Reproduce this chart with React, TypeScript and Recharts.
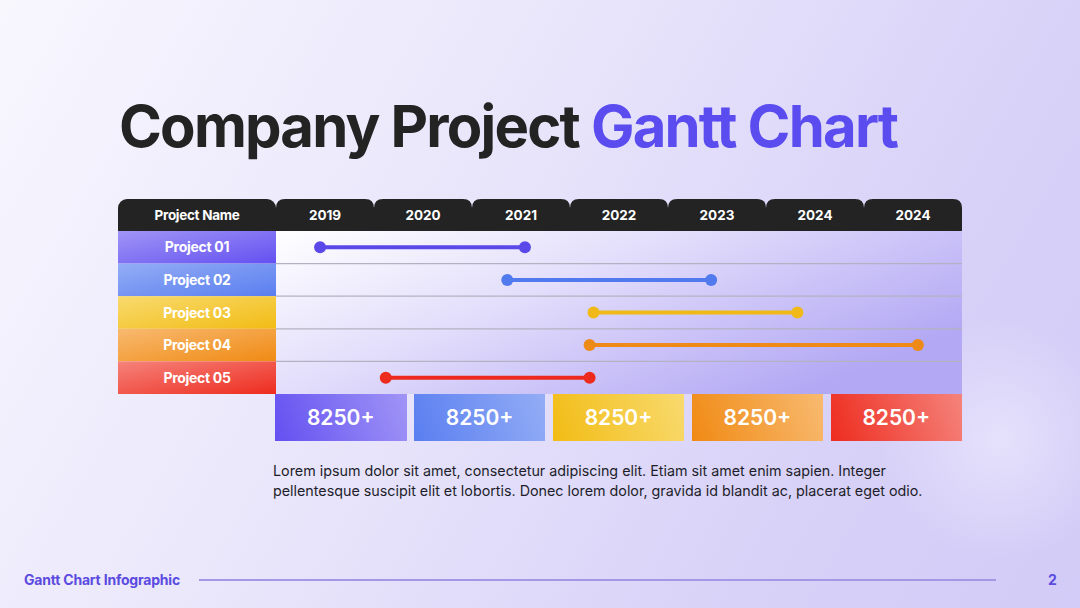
import { ScatterChart, Scatter, XAxis, YAxis, ReferenceArea, ReferenceLine } from 'recharts';

const years = ['2019', '2020', '2021', '2022', '2023', '2024', '2024'];
const projects = ['Project 01', 'Project 02', 'Project 03', 'Project 04', 'Project 05'];
// start / end of each project, measured in year columns from the left edge of 2019
const starts = [0.45, 2.36, 3.24, 3.2, 1.12];
const ends = [2.54, 4.44, 5.32, 6.55, 3.2];
const totals = ['8250+', '8250+', '8250+', '8250+', '8250+'];

const palette = [
  { line: '#5a48e8', light: '#a095f6', dark: '#6450f1' },
  { line: '#517aee', light: '#93adf5', dark: '#5a7ef0' },
  { line: '#f0b917', light: '#f8da6e', dark: '#f2bc15' },
  { line: '#ee8a18', light: '#f8ba70', dark: '#f08a14' },
  { line: '#ec2a1e', light: '#f5837b', dark: '#ee2c1f' },
];

const FONT = 'Inter, "Noto Sans", sans-serif';
const LEFT = 118;
const LABEL_W = 158;
const PLOT_L = LEFT + LABEL_W;
const PLOT_R = 962;
const HEAD_TOP = 199;
const HEAD_H = 32;
const PLOT_T = HEAD_TOP + HEAD_H;
const PLOT_B = 394;
const ROW_H = (PLOT_B - PLOT_T) / projects.length;
const COL_W = (PLOT_R - PLOT_L) / years.length;

const rows = projects.map((name, i) => ({
  name,
  data: [
    { x: starts[i], y: i + 0.5 },
    { x: ends[i], y: i + 0.5 },
  ],
}));

function tabPath(l: number, r: number, t: number, b: number, rad: number) {
  return `M${l},${b} L${l},${t + rad} Q${l},${t} ${l + rad},${t} L${r - rad},${t} Q${r},${t} ${r},${t + rad} L${r},${b} Z`;
}

function YearTab(props: any) {
  const { x, payload } = props;
  const i = Math.round(payload.value - 0.5);
  return (
    <g>
      <path d={tabPath(x - COL_W / 2, x + COL_W / 2, HEAD_TOP, PLOT_T, 9)} fill="#232323" />
      <text x={x} y={HEAD_TOP + HEAD_H / 2 + 5} textAnchor="middle" fill="#fff" fontSize={13.5} fontWeight={700} fontFamily={FONT}>
        {years[i]}
      </text>
    </g>
  );
}

function ProjectTick(props: any) {
  const { y, payload } = props;
  const i = Math.round(payload.value - 0.5);
  return (
    <g>
      <rect x={LEFT} y={y - ROW_H / 2} width={LABEL_W} height={ROW_H} fill={`url(#cell${i})`} />
      <text x={LEFT + LABEL_W / 2} y={y + 5} textAnchor="middle" fill="#fff" fontSize={14} fontWeight={700} fontFamily={FONT} letterSpacing={-0.3}>
        {projects[i]}
      </text>
    </g>
  );
}

const Dot = (color: string) => (p: any) => <circle cx={p.cx} cy={p.cy} r={6} fill={color} />;

export default function App() {
  return (
    <div
      style={{
        position: 'absolute',
        left: 0,
        top: 0,
        width: 1080,
        height: 608,
        overflow: 'hidden',
        fontFamily: FONT,
        background:
          'radial-gradient(circle at 1000px 440px, rgba(236,233,253,0.7) 0px, rgba(236,233,253,0) 120px), linear-gradient(120deg, #f8f7fe 0%, #e9e6fb 40%, #d8d2f8 75%, #d2cbf7 100%)',
      }}
    >
      <div style={{ position: 'absolute', left: 119, top: 91, fontSize: 58, fontWeight: 700, letterSpacing: -1.8, color: '#232323', whiteSpace: 'nowrap' }}>
        Company Project <span style={{ color: '#5b4cf0' }}>Gantt Chart</span>
      </div>

      {/* header cell above the project names */}
      <div
        style={{
          position: 'absolute',
          left: LEFT,
          top: HEAD_TOP,
          width: LABEL_W,
          height: HEAD_H,
          background: '#232323',
          borderRadius: '9px 9px 0 0',
          color: '#fff',
          fontSize: 13.5,
          fontWeight: 700,
          letterSpacing: -0.3,
          display: 'flex',
          alignItems: 'center',
          justifyContent: 'center',
        }}
      >
        Project Name
      </div>

      <div style={{ position: 'absolute', left: 0, top: 0 }}>
        <ScatterChart width={1080} height={608} margin={{ top: HEAD_TOP, right: 1080 - PLOT_R, bottom: 608 - PLOT_B, left: LEFT }}>
          <defs>
            <linearGradient id="plotBg" x1="0" y1="0" x2="1" y2="0.6">
              <stop offset="0%" stopColor="#ffffff" />
              <stop offset="45%" stopColor="#e2ddfb" />
              <stop offset="100%" stopColor="#b3a8f4" />
            </linearGradient>
            {palette.map((c, i) => (
              <linearGradient key={i} id={`cell${i}`} x1="0" y1="0" x2="1" y2="1">
                <stop offset="0%" stopColor={c.light} />
                <stop offset="100%" stopColor={c.dark} />
              </linearGradient>
            ))}
          </defs>
          <XAxis
            type="number"
            dataKey="x"
            orientation="top"
            domain={[0, years.length]}
            ticks={years.map((_, i) => i + 0.5)}
            height={HEAD_H}
            axisLine={false}
            tickLine={false}
            tick={YearTab}
            interval={0}
          />
          <YAxis
            type="number"
            dataKey="y"
            domain={[0, projects.length]}
            reversed
            ticks={projects.map((_, i) => i + 0.5)}
            width={LABEL_W}
            axisLine={false}
            tickLine={false}
            tick={ProjectTick}
            interval={0}
          />
          <ReferenceArea x1={0} x2={years.length} y1={0} y2={projects.length} fill="url(#plotBg)" fillOpacity={1} stroke="none" />
          {[1, 2, 3, 4].map((v) => (
            <ReferenceLine key={v} y={v} stroke="#b4b2c2" strokeWidth={1.2} />
          ))}
          {rows.map((r, i) => (
            <Scatter
              key={r.name}
              name={r.name}
              data={r.data}
              fill={palette[i].line}
              line={{ stroke: palette[i].line, strokeWidth: 4 }}
              shape={Dot(palette[i].line)}
              isAnimationActive={false}
            />
          ))}
        </ScatterChart>
      </div>

      <div style={{ position: 'absolute', left: PLOT_L - 1, top: PLOT_B, width: PLOT_R - PLOT_L + 1, height: 47, display: 'flex', justifyContent: 'space-between' }}>
        {totals.map((t, i) => (
          <div
            key={i}
            style={{
              width: 131.5,
              height: 47,
              background: `linear-gradient(70deg, ${palette[i].dark} 0%, ${palette[i].light} 100%)`,
              color: '#fff',
              fontSize: 21,
              fontWeight: 600,
              display: 'flex',
              alignItems: 'center',
              justifyContent: 'center',
            }}
          >
            {t}
          </div>
        ))}
      </div>

      <div style={{ position: 'absolute', left: 273, top: 461, width: 720, fontSize: 14.3, lineHeight: '20px', color: '#1e1e2a', whiteSpace: 'nowrap' }}>
        Lorem ipsum dolor sit amet, consectetur adipiscing elit. Etiam sit amet enim sapien. Integer
        <br />
        pellentesque suscipit elit et lobortis. Donec lorem dolor, gravida id blandit ac, placerat eget odio.
      </div>

      <div style={{ position: 'absolute', left: 24, top: 571, fontSize: 14, fontWeight: 700, color: '#5b4be0', letterSpacing: -0.2 }}>
        Gantt Chart Infographic
      </div>
      <div style={{ position: 'absolute', left: 199, top: 579, width: 797, height: 2, background: '#a397e6' }} />
      <div style={{ position: 'absolute', left: 1048, top: 571, fontSize: 14, fontWeight: 700, color: '#5b4be0' }}>2</div>
    </div>
  );
}
